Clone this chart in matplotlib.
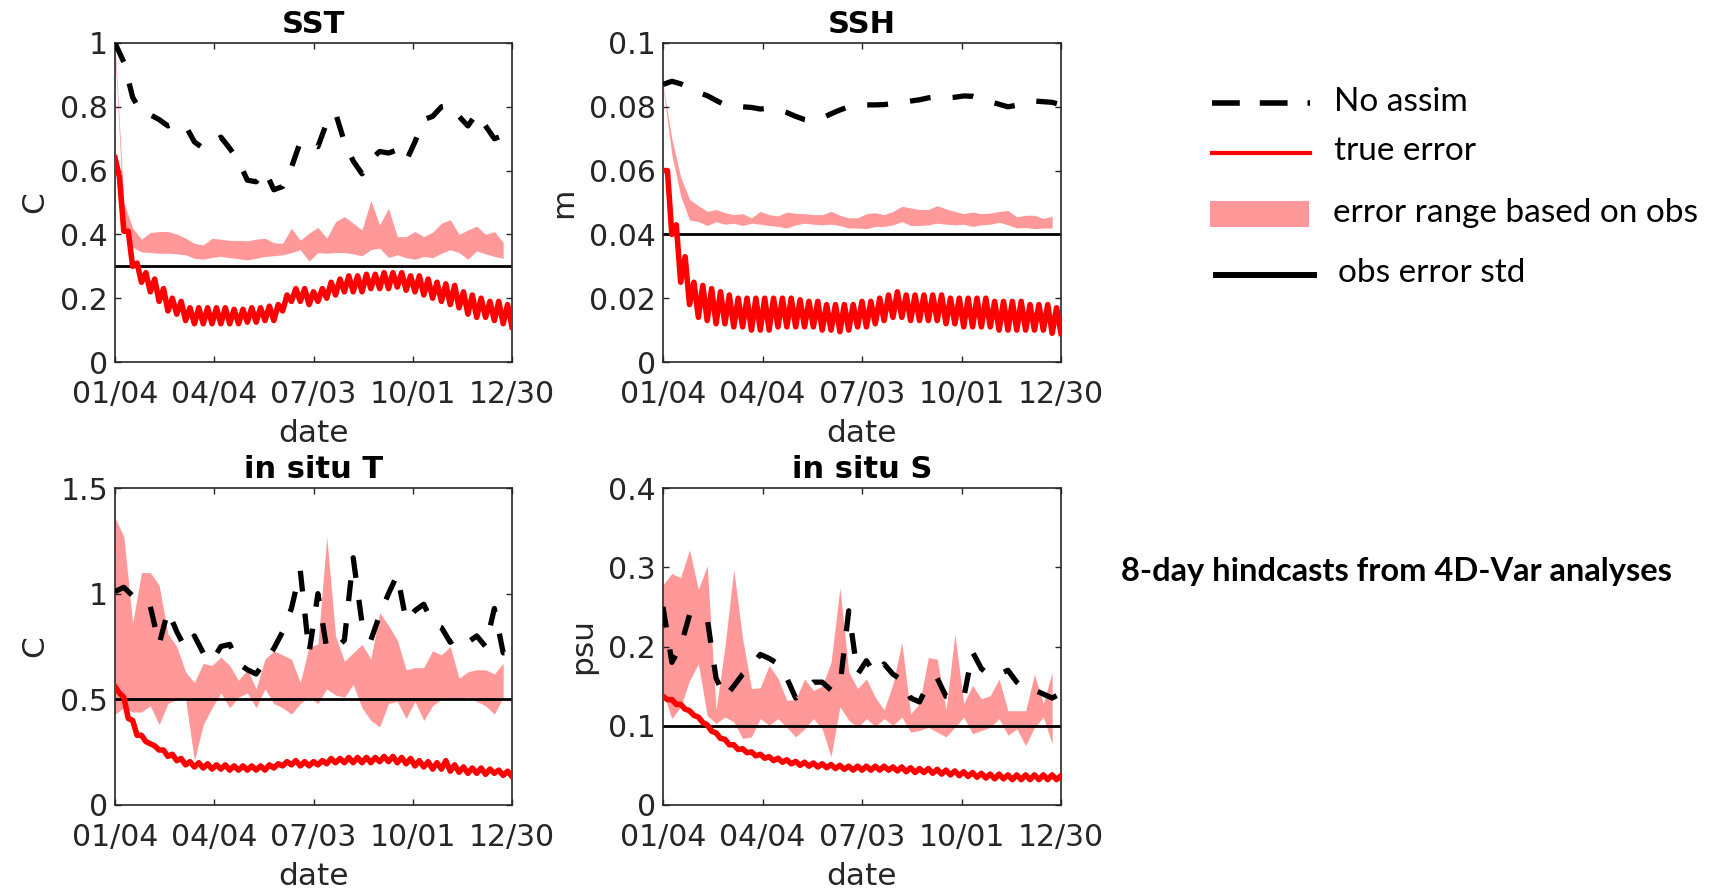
import numpy as np
import matplotlib.pyplot as plt
from matplotlib.patches import Rectangle

plt.rcParams['font.family'] = 'DejaVu Sans'
plt.rcParams['lines.scale_dashes'] = False

PINK = '#ff9999'
GREY = '#262626'

tick_days = [4, 94, 184, 274, 364]
tick_labels = ['01/04', '04/04', '07/03', '10/01', '12/30']

# sampling of the runs (day of year)
days8 = np.arange(4, 365, 8)       # no-assim run, every 8 days
band_days = np.arange(4, 357, 8)   # obs based error range
days4 = np.arange(4, 365, 4)       # true error, analysis / end of hindcast

# ---------------- SST ----------------
sst_noassim = [1.00, 0.94, 0.83, 0.78, 0.775, 0.76, 0.74, 0.75, 0.74, 0.69, 0.67, 0.685,
               0.705, 0.67, 0.63, 0.57, 0.565, 0.60, 0.54, 0.55, 0.61, 0.69, 0.685, 0.675,
               0.75, 0.78, 0.69, 0.63, 0.59, 0.635, 0.66, 0.655, 0.665, 0.63, 0.69, 0.76,
               0.77, 0.80, 0.805, 0.77, 0.74, 0.78, 0.74, 0.70, 0.71, 0.72]
sst_band_hi = [1.00, 0.50, 0.42, 0.385, 0.406, 0.409, 0.409, 0.401, 0.388, 0.372, 0.367, 0.388,
               0.385, 0.381, 0.381, 0.380, 0.385, 0.388, 0.374, 0.372, 0.419, 0.382, 0.404, 0.422,
               0.388, 0.440, 0.456, 0.435, 0.414, 0.506, 0.430, 0.482, 0.393, 0.393, 0.409, 0.393,
               0.407, 0.435, 0.446, 0.400, 0.414, 0.426, 0.400, 0.409, 0.375]
sst_band_lo = [0.97, 0.44, 0.36, 0.345, 0.343, 0.341, 0.341, 0.339, 0.336, 0.325, 0.322, 0.328,
               0.331, 0.327, 0.324, 0.320, 0.325, 0.331, 0.333, 0.336, 0.343, 0.352, 0.316, 0.343,
               0.341, 0.343, 0.343, 0.339, 0.333, 0.352, 0.357, 0.328, 0.336, 0.327, 0.322, 0.331,
               0.327, 0.341, 0.352, 0.343, 0.322, 0.348, 0.339, 0.331, 0.325]
sst_true = [0.64, 0.58, 0.41, 0.41, 0.30, 0.31, 0.25, 0.28, 0.22, 0.26, 0.19, 0.23, 0.16, 0.20,
            0.15, 0.19, 0.13, 0.17, 0.12, 0.17, 0.12, 0.17, 0.12, 0.17, 0.12, 0.17, 0.12, 0.165,
            0.12, 0.165, 0.125, 0.17, 0.125, 0.17, 0.13, 0.175, 0.13, 0.18, 0.16, 0.21, 0.19, 0.23,
            0.19, 0.23, 0.18, 0.22, 0.19, 0.23, 0.20, 0.25, 0.21, 0.26, 0.22, 0.27, 0.22, 0.27,
            0.22, 0.275, 0.23, 0.275, 0.23, 0.28, 0.23, 0.28, 0.235, 0.28, 0.225, 0.27, 0.22, 0.27,
            0.21, 0.26, 0.20, 0.25, 0.19, 0.245, 0.18, 0.24, 0.17, 0.22, 0.15, 0.21, 0.14, 0.20,
            0.14, 0.19, 0.13, 0.19, 0.12, 0.18, 0.11]

# ---------------- SSH ----------------
ssh_noassim = [0.0870, 0.0880, 0.0872, 0.0860, 0.0845, 0.0835, 0.0820, 0.0806, 0.0800, 0.0800,
               0.0798, 0.0793, 0.0796, 0.0790, 0.0782, 0.0770, 0.0760, 0.0756, 0.0765, 0.0778,
               0.0790, 0.0800, 0.0805, 0.0806, 0.0806, 0.0807, 0.0810, 0.0813, 0.0818, 0.0822,
               0.0828, 0.0832, 0.0828, 0.0830, 0.0834, 0.0833, 0.0825, 0.0816, 0.0808, 0.0800,
               0.0805, 0.0815, 0.0818, 0.0816, 0.0814, 0.0806]
ssh_band_hi = [0.0868, 0.0700, 0.0580, 0.0510, 0.0490, 0.0472, 0.0478, 0.0468, 0.0462, 0.0465,
               0.0452, 0.0472, 0.0462, 0.0458, 0.0470, 0.0466, 0.0465, 0.0462, 0.0462, 0.0472,
               0.0460, 0.0452, 0.0452, 0.0465, 0.0468, 0.0462, 0.0472, 0.0488, 0.0483, 0.0478,
               0.0478, 0.0490, 0.0480, 0.0472, 0.0465, 0.0470, 0.0465, 0.0467, 0.0472, 0.0475,
               0.0455, 0.0460, 0.0460, 0.0450, 0.0457]
ssh_band_lo = [0.0862, 0.0650, 0.0520, 0.0445, 0.0440, 0.0428, 0.0440, 0.0432, 0.0435, 0.0428,
               0.0435, 0.0432, 0.0428, 0.0425, 0.0420, 0.0430, 0.0435, 0.0432, 0.0430, 0.0432,
               0.0428, 0.0420, 0.0420, 0.0418, 0.0425, 0.0425, 0.0430, 0.0440, 0.0428, 0.0428,
               0.0430, 0.0435, 0.0432, 0.0430, 0.0432, 0.0425, 0.0430, 0.0432, 0.0438, 0.0430,
               0.0420, 0.0422, 0.0418, 0.0420, 0.0420]
ssh_true = [0.060, 0.060, 0.040, 0.043, 0.025, 0.033, 0.018, 0.025, 0.014, 0.024, 0.013, 0.023,
            0.012, 0.022, 0.012, 0.021, 0.011, 0.020, 0.011, 0.020, 0.010, 0.020, 0.010, 0.020,
            0.010, 0.020, 0.011, 0.020, 0.011, 0.020, 0.011, 0.0195, 0.011, 0.019, 0.011, 0.019,
            0.010, 0.018, 0.010, 0.018, 0.0095, 0.018, 0.010, 0.018, 0.011, 0.019, 0.011, 0.019,
            0.012, 0.020, 0.013, 0.021, 0.014, 0.022, 0.014, 0.021, 0.013, 0.021, 0.013, 0.021,
            0.013, 0.021, 0.013, 0.021, 0.012, 0.020, 0.012, 0.020, 0.011, 0.020, 0.011, 0.020,
            0.011, 0.020, 0.011, 0.019, 0.010, 0.019, 0.010, 0.019, 0.010, 0.019, 0.010, 0.018,
            0.010, 0.018, 0.010, 0.018, 0.009, 0.017, 0.009]

# ---------------- in situ T ----------------
t_noassim = [1.01, 1.03, 0.99, 0.97, 0.94, 0.76, 0.92, 0.82, 0.74, 0.80, 0.72, 0.68,
             0.75, 0.76, 0.67, 0.64, 0.62, 0.68, 0.74, 0.82, 0.93, 1.11, 0.72, 1.00,
             0.74, 0.74, 0.78, 1.17, 0.86, 0.78, 0.90, 1.00, 1.09, 0.87, 0.92, 0.95,
             0.86, 0.84, 0.77, 0.80, 0.77, 0.80, 0.75, 0.93, 0.72, 0.72]
t_band_hi = [1.36, 1.27, 0.86, 1.10, 1.10, 1.04, 0.81, 0.75, 0.63, 0.58, 0.67, 0.66,
             0.70, 0.66, 0.59, 0.64, 0.55, 0.69, 0.73, 0.71, 0.69, 0.58, 0.75, 0.76,
             1.27, 0.80, 0.68, 0.72, 0.76, 0.69, 0.91, 0.85, 0.78, 0.64, 0.65, 0.65,
             0.73, 0.71, 0.75, 0.60, 0.63, 0.64, 0.64, 0.62, 0.67]
t_band_lo = [0.43, 0.46, 0.44, 0.44, 0.47, 0.38, 0.48, 0.50, 0.50, 0.21, 0.38, 0.46,
             0.53, 0.46, 0.51, 0.53, 0.46, 0.55, 0.48, 0.46, 0.43, 0.48, 0.51, 0.48,
             0.55, 0.52, 0.51, 0.57, 0.46, 0.40, 0.37, 0.48, 0.49, 0.41, 0.49, 0.40,
             0.47, 0.50, 0.50, 0.50, 0.51, 0.49, 0.47, 0.43, 0.51]
t_true = [0.56, 0.53, 0.51, 0.41, 0.40, 0.33, 0.33, 0.30, 0.29, 0.28, 0.26, 0.26, 0.23, 0.24,
          0.21, 0.22, 0.19, 0.205, 0.18, 0.20, 0.175, 0.195, 0.17, 0.19, 0.17, 0.19, 0.165, 0.185,
          0.165, 0.185, 0.165, 0.185, 0.165, 0.185, 0.165, 0.19, 0.175, 0.195, 0.185, 0.205, 0.19,
          0.21, 0.185, 0.205, 0.185, 0.205, 0.19, 0.21, 0.195, 0.22, 0.20, 0.22, 0.20, 0.225, 0.20,
          0.225, 0.20, 0.225, 0.20, 0.225, 0.205, 0.23, 0.205, 0.23, 0.20, 0.225, 0.195, 0.22,
          0.185, 0.21, 0.18, 0.205, 0.17, 0.20, 0.17, 0.21, 0.16, 0.19, 0.155, 0.18, 0.15, 0.175,
          0.15, 0.175, 0.145, 0.17, 0.15, 0.165, 0.14, 0.16, 0.135]

# ---------------- in situ S ----------------
s_noassim = [0.25, 0.18, 0.20, 0.24, 0.24, 0.235, 0.16, 0.136, 0.15, 0.165, 0.175, 0.19,
             0.185, 0.178, 0.16, 0.135, 0.145, 0.155, 0.155, 0.145, 0.15, 0.245, 0.165, 0.182,
             0.165, 0.178, 0.165, 0.158, 0.135, 0.13, 0.153, 0.16, 0.137, 0.135, 0.135, 0.193,
             0.172, 0.163, 0.165, 0.17, 0.155, 0.146, 0.145, 0.14, 0.135, 0.141]
s_band_hi = [0.278, 0.292, 0.287, 0.322, 0.272, 0.302, 0.12, 0.20, 0.297, 0.21, 0.147, 0.148,
             0.176, 0.16, 0.132, 0.133, 0.159, 0.1445, 0.15, 0.18, 0.274, 0.168, 0.147, 0.159,
             0.136, 0.12, 0.153, 0.205, 0.115, 0.128, 0.186, 0.184, 0.12, 0.2157, 0.128, 0.151,
             0.134, 0.138, 0.159, 0.119, 0.119, 0.119, 0.165, 0.128, 0.1675]
s_band_lo = [0.142, 0.109, 0.124, 0.157, 0.178, 0.113, 0.103, 0.111, 0.105, 0.084, 0.086, 0.109,
             0.1005, 0.109, 0.098, 0.086, 0.096, 0.109, 0.096, 0.061, 0.124, 0.107, 0.098, 0.109,
             0.099, 0.109, 0.1005, 0.111, 0.092, 0.094, 0.098, 0.092, 0.086, 0.098, 0.111, 0.09,
             0.094, 0.098, 0.109, 0.088, 0.096, 0.075, 0.098, 0.111, 0.077]
s_true = [0.137, 0.133, 0.133, 0.127, 0.127, 0.121, 0.119, 0.113, 0.111, 0.104, 0.101, 0.093,
          0.091, 0.084, 0.083, 0.076, 0.076, 0.070, 0.071, 0.066, 0.067, 0.062, 0.064, 0.059,
          0.061, 0.056, 0.059, 0.054, 0.057, 0.052, 0.055, 0.050, 0.054, 0.049, 0.053, 0.048,
          0.052, 0.047, 0.051, 0.046, 0.050, 0.045, 0.049, 0.044, 0.049, 0.044, 0.049, 0.044,
          0.049, 0.044, 0.049, 0.044, 0.048, 0.043, 0.048, 0.042, 0.047, 0.041, 0.046, 0.041,
          0.046, 0.040, 0.045, 0.039, 0.044, 0.038, 0.043, 0.037, 0.042, 0.036, 0.041, 0.035,
          0.040, 0.034, 0.039, 0.033, 0.039, 0.033, 0.038, 0.032, 0.038, 0.032, 0.038, 0.032,
          0.038, 0.032, 0.038, 0.032, 0.038, 0.032, 0.037]

W, H = 1712, 893
fig = plt.figure(figsize=(W / 100, H / 100), dpi=100)


def pixRect(left, top, right, bottom):
    return [left / W, 1 - bottom / H, (right - left) / W, (bottom - top) / H]


def drawPanel(rect, title, ylabel, ymax, yticks, yticklabels, obsStd,
              noassim, bandLo, bandHi, trueErr):
    ax = fig.add_axes(rect)
    ax.fill_between(band_days, bandLo, bandHi, color=PINK, lw=0, zorder=1)
    ax.axhline(obsStd, color='k', lw=2.0, zorder=2)
    ax.plot(days8, noassim, color='k', lw=3.8, dashes=(15, 16),
            dash_capstyle='butt', zorder=3)
    ax.plot(days4, trueErr, color='red', lw=4.0, solid_joinstyle='round', zorder=4)
    ax.set_xlim(4, 364)
    ax.set_ylim(0, ymax)
    ax.set_xticks(tick_days)
    ax.set_xticklabels(tick_labels)
    ax.set_yticks(yticks)
    ax.set_yticklabels(yticklabels)
    ax.tick_params(direction='in', top=True, right=True, length=4, width=1,
                   colors=GREY, labelsize=21.5)
    ax.tick_params(axis='x', pad=13)
    ax.tick_params(axis='y', pad=5)
    for sp in ax.spines.values():
        sp.set_color(GREY)
        sp.set_linewidth(1.2)
    ax.set_title(title, fontsize=22, fontweight='bold', pad=7)
    ax.set_xlabel('date', fontsize=22.5, color=GREY, labelpad=7)
    ax.set_ylabel(ylabel, fontsize=22.5, color=GREY, labelpad=8)
    return ax


drawPanel(pixRect(115, 43, 512, 362), 'SST', 'C', 1.0,
          [0, 0.2, 0.4, 0.6, 0.8, 1.0], ['0', '0.2', '0.4', '0.6', '0.8', '1'], 0.3,
          sst_noassim, sst_band_lo, sst_band_hi, sst_true)
drawPanel(pixRect(663, 43, 1061, 362), 'SSH', 'm', 0.1,
          [0, 0.02, 0.04, 0.06, 0.08, 0.1], ['0', '0.02', '0.04', '0.06', '0.08', '0.1'], 0.04,
          ssh_noassim, ssh_band_lo, ssh_band_hi, ssh_true)
drawPanel(pixRect(115, 488, 512, 805), 'in situ T', 'C', 1.5,
          [0, 0.5, 1.0, 1.5], ['0', '0.5', '1', '1.5'], 0.5,
          t_noassim, t_band_lo, t_band_hi, t_true)
drawPanel(pixRect(663, 488, 1061, 805), 'in situ S', 'psu', 0.4,
          [0, 0.1, 0.2, 0.3, 0.4], ['0', '0.1', '0.2', '0.3', '0.4'], 0.1,
          s_noassim, s_band_lo, s_band_hi, s_true)

# hand-placed legend on the right, in pixel coordinates
lg = fig.add_axes([0, 0, 1, 1])
lg.set_xlim(0, W)
lg.set_ylim(H, 0)
lg.axis('off')
lg.plot([1212, 1310], [103, 103], color='k', lw=4, dashes=(20, 14.4), dash_capstyle='butt')
lg.plot([1212, 1310], [153, 153], color='red', lw=3)
lg.add_patch(Rectangle((1210, 201), 99, 26, color=PINK, lw=0))
lg.plot([1216, 1314], [275, 275], color='k', lw=4.3)
legend_font = dict(family='Lato', fontsize=24, va='center', ha='left', color='black')
lg.text(1334, 102, 'No assim', **legend_font)
lg.text(1334, 151, 'true error', **legend_font)
lg.text(1333, 213, 'error range based on obs', **legend_font)
lg.text(1338, 273, 'obs error std', **legend_font)
lg.text(1121, 571, '8-day hindcasts from 4D-Var analyses', family='Lato',
        fontsize=23.5, fontweight='bold', va='center', ha='left', color='black')

fig.savefig('out.png', dpi=100)
